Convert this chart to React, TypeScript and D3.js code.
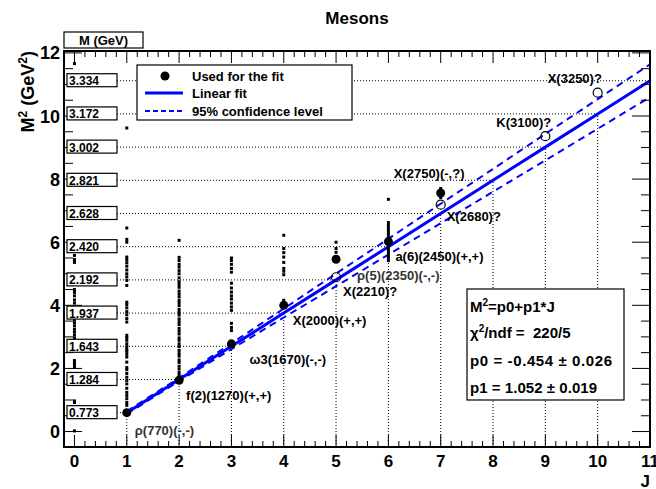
import React from "react";
import * as d3 from "d3";

// ---- data ----
const fitJ = [1, 2, 3, 4, 5, 6, 7];
const fitM2 = [0.598, 1.626, 2.78, 4.0, 5.46, 6.02, 7.56];
const fitErr = [0, 0, 0, 0, 0, 0.65, 0.19];

const openJ = [5, 7, 9, 10];
const openM2 = [4.89, 7.19, 9.36, 10.74];

const p0 = -0.454;
const p1 = 1.052;

const massJ = [1, 2, 3, 4, 5, 6, 7, 8, 9, 10, 11];
const massLabels = ["0.773", "1.284", "1.643", "1.937", "2.192", "2.420", "2.628", "2.821", "3.002", "3.172", "3.334"];
const bandHalf = [0.04, 0.05, 0.09, 0.14, 0.2, 0.25, 0.31, 0.36, 0.42, 0.47, 0.52];

const sqJ0 = [0.02, 0.92, 0.97, 2.04, 2.12, 2.18, 2.25, 2.95, 3.05, 3.15, 3.24, 3.35, 3.45, 3.55, 3.63, 4.07, 4.17, 4.3, 4.41, 4.5, 5.36, 5.45, 5.58, 8.9, 11.66];
const sqJ1 = [0.83, 0.92, 1.04, 1.14, 1.24, 1.37, 1.51, 1.62, 1.72, 1.84, 1.96, 2.03, 2.2, 2.36, 2.45, 2.54, 2.6, 2.69, 2.78, 2.89, 2.98, 3.05, 3.47, 3.58, 3.7, 3.8, 3.92, 4.02, 4.1, 4.63, 4.79, 4.9, 5.0, 5.12, 5.24, 5.35, 5.45, 5.53, 6.0, 6.09, 6.45, 9.62];
const sqJ2 = [1.78, 1.87, 1.98, 2.07, 2.19, 2.27, 2.39, 2.47, 2.57, 2.69, 2.78, 2.89, 2.97, 3.09, 3.18, 3.27, 3.39, 3.48, 3.57, 3.69, 3.78, 3.87, 3.99, 4.08, 4.16, 4.27, 4.36, 4.45, 4.57, 4.66, 4.75, 4.87, 5.0, 5.1, 5.21, 5.3, 5.42, 5.52, 6.06];
const sqJ3 = [3.2, 3.3, 3.43, 3.84, 3.95, 4.07, 4.2, 4.3, 4.42, 4.55, 4.7, 5.05, 5.17, 5.3, 5.42, 5.5];
const sqJ4 = [4.16, 4.97, 5.08, 5.17, 5.36, 5.53, 5.67, 5.8, 6.22];
const sqJ5 = [5.68, 5.8, 6.0];
const sqJ6 = [7.36];
const squareCols = [sqJ0, sqJ1, sqJ2, sqJ3, sqJ4, sqJ5, sqJ6];

const labelTexts = ["ρ(770)(-,-)", "f(2)(1270)(+,+)", "ω3(1670)(-,-)", "X(2000)(+,+)", "X(2210)?", "ρ(5)(2350)(-,-)", "a(6)(2450)(+,+)", "X(2750)(-,?)", "X(2680)?", "K(3100)?", "X(3250)?"];
const labelJ = [1, 2, 3, 4, 5, 5, 6, 7, 7, 9, 10];
const labelM2 = [0.598, 1.626, 2.78, 4.0, 4.89, 5.46, 6.02, 7.56, 7.19, 9.36, 10.74];
// style: pixel offsets of labels from their points
const labelDx = [8, 7, 18, 9, 7, 21, 7, -47, 6, -49, -50];
const labelDy = [18, 15, 16, 15, 14, 16, 15, -19, 12, -14, -14];
const labelLight = [true, false, false, false, false, true, false, false, false, false, false];

const xTicks = [0, 1, 2, 3, 4, 5, 6, 7, 8, 9, 10, 11];
const yTicks = [0, 2, 4, 6, 8, 10, 12];

const W = 656, H = 489;
const L = 64, R = 650, T = 51, B = 447;
const BLUE = "#0000ff";
const FONT = "'Liberation Sans', Arial, Helvetica, sans-serif";

export default function App() {
  const x = d3.scaleLinear().domain([-0.2, 11]).range([L, R]);
  const y = d3.scaleLinear().domain([-0.49, 12.06]).range([B, T]);
  const fit = (j: number) => p0 + p1 * j;

  const line = d3.line<[number, number]>().x(d => x(d[0])).y(d => y(d[1]));
  const fitPts: [number, number][] = massJ.map(j => [j, fit(j)]);
  const upPts: [number, number][] = massJ.map((j, i) => [j, fit(j) + bandHalf[i]]);
  const loPts: [number, number][] = massJ.map((j, i) => [j, fit(j) - bandHalf[i]]);

  const minorX = d3.range(-0.2, 11.001, 0.2).map(v => Math.round(v * 10) / 10);
  const minorY = d3.range(-0.5, 12.01, 0.5);

  const massBoxes = (pfx: string) =>
    massJ.map((j, i) => (
      <g key={pfx + i}>
        <rect x={67} y={y(fit(j)) - 7} width={50} height={13} fill="#fff" stroke="#000" strokeWidth={1.2} />
        <text x={69} y={y(fit(j)) + 4.5} fontWeight="bold" fontSize={12}>{massLabels[i]}</text>
      </g>
    ));

  return (
    <svg width={W} height={H} style={{ display: "block", position: "absolute", left: 0, top: 0 }} fontFamily={FONT}>
      <defs>
        <clipPath id="frame"><rect x={L} y={T} width={R - L} height={B - T} /></clipPath>
      </defs>
      <rect x={0} y={0} width={W} height={H} fill="#fff" />
      {/* title */}
      <text x={(L + R) / 2} y={24} textAnchor="middle" fontWeight="bold" fontSize={17}>Mesons</text>

      {/* M (GeV) header box */}
      <rect x={L} y={32} width={79} height={16} fill="#fff" stroke="#000" strokeWidth={1.2} />
      <text x={L + 39.5} y={45} textAnchor="middle" fontWeight="bold" fontSize={13}>M (GeV)</text>

      <g clipPath="url(#frame)">
        {/* dotted guide lines */}
        {massJ.map(j => (
          <g key={"g" + j}>
            <line x1={x(j)} x2={x(j)} y1={B} y2={y(fit(j))} stroke="#000" strokeWidth={1} strokeDasharray="1,2" />
            <line x1={117} x2={x(j)} y1={y(fit(j))} y2={y(fit(j))} stroke="#000" strokeWidth={1} strokeDasharray="1,2" />
          </g>
        ))}
        {/* squares */}
        {squareCols.map((col, j) =>
          col.map((v, k) => (
            <rect key={"s" + j + "_" + k} x={x(j) - 1.5} y={y(v) - 1.5} width={3} height={3} fill="#000" />
          ))
        )}
        {/* fit + band */}
        <path d={line(fitPts) || ""} fill="none" stroke={BLUE} strokeWidth={3} />
        <path d={line(upPts) || ""} fill="none" stroke={BLUE} strokeWidth={2} strokeDasharray="7,5" />
        <path d={line(loPts) || ""} fill="none" stroke={BLUE} strokeWidth={2} strokeDasharray="7,5" />
        {/* error bars */}
        {fitJ.map((j, i) =>
          fitErr[i] > 0 ? (
            <line key={"e" + i} x1={x(j)} x2={x(j)} y1={y(fitM2[i] - fitErr[i])} y2={y(fitM2[i] + fitErr[i])} stroke="#000" strokeWidth={3} />
          ) : null
        )}
        {/* points */}
        {fitJ.map((j, i) => (
          <circle key={"p" + i} cx={x(j)} cy={y(fitM2[i])} r={4.5} fill="#000" />
        ))}
        {openJ.map((j, i) => (
          <circle key={"o" + i} cx={x(j)} cy={y(openM2[i])} r={4.5} fill="none" stroke="#000" strokeWidth={1.2} />
        ))}
      </g>

      {/* labels */}
      {labelTexts.map((t, i) => (
        <text key={"l" + i} x={x(labelJ[i]) + labelDx[i]} y={y(labelM2[i]) + labelDy[i] + 4.5}
          fontWeight="bold" fill={labelLight[i] ? "#333" : "#000"} fontSize={13}>{t}</text>
      ))}

      {/* legend */}
      <rect x={137} y={65} width={215} height={55} fill="#fff" stroke="#000" strokeWidth={1.2} />
      <circle cx={165} cy={76} r={4.5} fill="#000" />
      <text x={192} y={80.5} fontWeight="bold" fontSize={13}>Used for the fit</text>
      <line x1={145} x2={183} y1={93} y2={93} stroke={BLUE} strokeWidth={3} />
      <text x={192} y={97.5} fontWeight="bold" fontSize={13}>Linear fit</text>
      <line x1={145} x2={183} y1={111} y2={111} stroke={BLUE} strokeWidth={2} strokeDasharray="5,3" />
      <text x={192} y={115.5} fontWeight="bold" fontSize={13}>95% confidence level</text>

      {/* stats box */}
      <rect x={467} y={289} width={157} height={111} fill="#fff" stroke="#000" strokeWidth={1.2} />
      <g fontWeight="bold" fontSize={15}>
        <text x={470} y={311.5}>M<tspan dy={-6} fontSize={10}>2</tspan><tspan dy={6}>=p0+p1*J</tspan></text>
        <text x={470} y={338}>χ<tspan dy={-6} fontSize={10}>2</tspan><tspan dy={6}>{"/ndf =\u00a0\u00a0220/5"}</tspan></text>
        <text x={470} y={366} textLength={142} lengthAdjust="spacing">{"p0 = -0.454\u00a0±\u00a00.026"}</text>
        <text x={470} y={393} textLength={127} lengthAdjust="spacing">{"p1 = 1.052\u00a0±\u00a00.019"}</text>
      </g>

      {/* frame + ticks */}
      <rect x={L} y={T} width={R - L} height={B - T} fill="none" stroke="#000" strokeWidth={2} />
      {minorX.map((v, i) => {
        const major = Math.abs(v - Math.round(v)) < 1e-6;
        const len = major ? 12 : 6;
        return (
          <g key={"xt" + i}>
            <line x1={x(v)} x2={x(v)} y1={B} y2={B - len} stroke="#000" strokeWidth={1} />
            <line x1={x(v)} x2={x(v)} y1={T} y2={T + len} stroke="#000" strokeWidth={1} />
          </g>
        );
      })}
      {minorY.map((v, i) => {
        const major = Math.abs(v / 2 - Math.round(v / 2)) < 1e-6;
        const len = major ? 18 : 9;
        return (
          <g key={"yt" + i}>
            <line x1={R} x2={R - len} y1={y(v)} y2={y(v)} stroke="#000" strokeWidth={1} />
            <line x1={L} x2={L + len} y1={y(v)} y2={y(v)} stroke="#000" strokeWidth={1} />
          </g>
        );
      })}
      {/* mass boxes over left ticks */}
      {massBoxes("mb")}

      {/* tick labels */}
      {xTicks.map(t => (
        <text key={"xl" + t} x={x(t)} y={467} textAnchor="middle" fontWeight="bold" fontSize={17}>{t}</text>
      ))}
      {yTicks.map(t => (
        <text key={"yl" + t} x={60} y={y(t) + 6.5} textAnchor="end" fontWeight="bold" fontSize={18}>{t}</text>
      ))}
      <text x={R} y={487} textAnchor="end" fontWeight="bold" fontSize={17}>J</text>
      <text transform={`translate(34,${T}) rotate(-90)`} textAnchor="end" fontWeight="bold" fontSize={18}>
        M<tspan dy={-7} fontSize={12}>2</tspan><tspan dy={7}> (GeV</tspan><tspan dy={-7} fontSize={12}>2</tspan><tspan dy={7}>)</tspan>
      </text>
    </svg>
  );
}
